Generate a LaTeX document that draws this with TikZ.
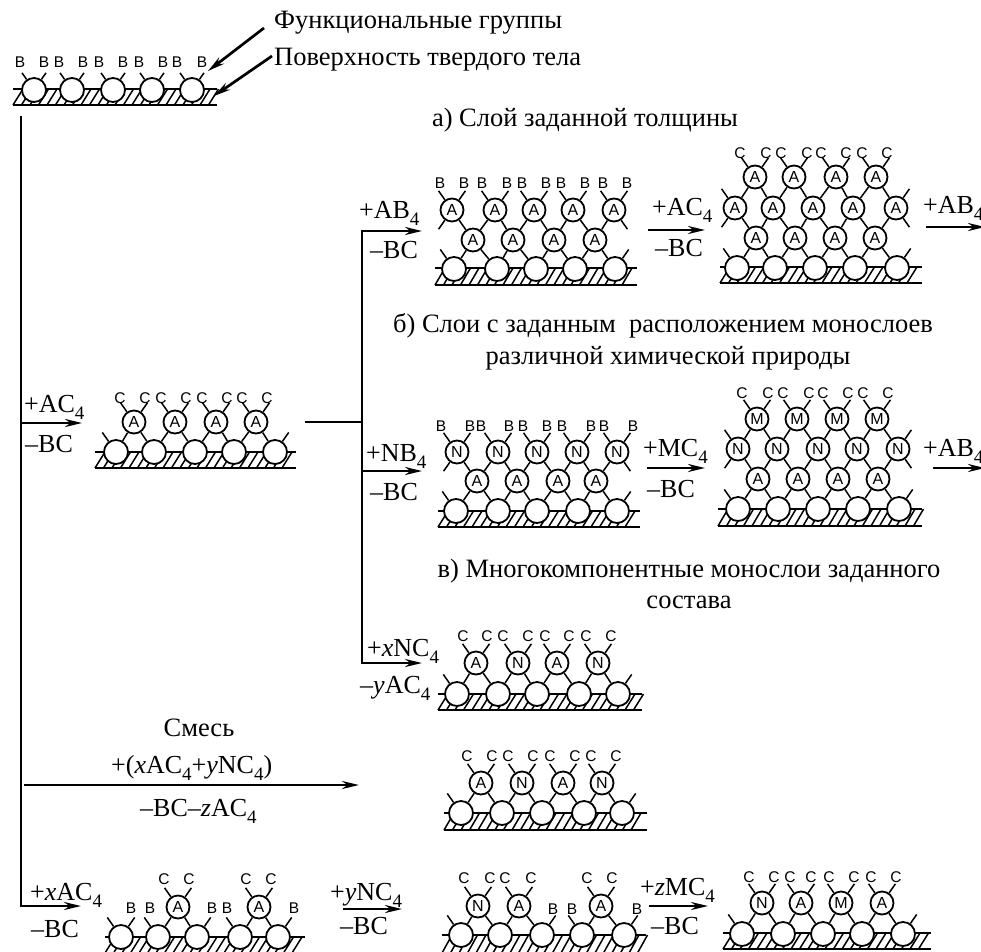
\documentclass[tikz,border=0pt]{standalone}
\usepackage{fontspec}
\setmainfont{Liberation Serif}
\newfontfamily\lsans{Liberation Sans}
\usetikzlibrary{arrows.meta,calc}
\newcommand{\lsub}[1]{\raisebox{-0.3em}{\fontsize{19}{19}\selectfont #1}}
\newcommand{\tlen}{11}
% ground strip with hatching: x0, x1, top, bottom
\newcommand{\surf}[4]{%
  \pgfmathtruncatemacro{\nh}{(#2-#1)/8.5-1}
  \foreach \k in {0,...,\nh}{\draw[hatchln] ({#1+8.5*\k},#4) -- ++(10,{#3-#4});}
  \draw[hatchln] (#1,#3) -- (#2,#3);
  \draw[baseln] (#1,#4) -- (#2,#4);}
\newcommand{\mkballs}[3]{%
  \foreach \x [count=\i] in {#2}{\node[ballc] (#1\i) at (\x,#3) {};}}
\newcommand{\mkatoms}[3]{%
  \foreach \x/\t [count=\i] in {#2}{\node[atomc] (#1\i) at (\x,#3) {\t};}}
% each atom of a row sits on two neighbours of the row below
\newcommand{\lnk}[2]{%
  \foreach \i [evaluate=\i as \j using int(\i+1)] in {1,2,3,4}{%
    \draw[bond] (#1\i) -- (#2\i);
    \draw[bond] (#1\i) -- (#2\j);}}
\newcommand{\tick}[2]{\draw[bond] (#1.#2) -- ++({\tlen*cos(#2)},{-\tlen*sin(#2)});}
\newcommand{\tops}[2]{\foreach \i in {1,...,#2}{\tick{#1\i}{125}\tick{#1\i}{55}}}
\newcommand{\mksubs}[4]{%
  \foreach \x [count=\i] in {#4}{\node[subc] (#1\i) at (\x,#3) {#2};}}

\begin{document}
\begin{tikzpicture}[x=1pt, y=-1pt,
  ballc/.style={circle, draw, fill=white, line width=1.8pt, inner sep=0pt, minimum size=24pt},
  atomc/.style={circle, draw, fill=white, line width=1.8pt, inner sep=0pt, minimum size=23pt, font=\lsans\fontsize{16}{16}\selectfont},
  subc/.style={inner sep=0pt, font=\lsans\fontsize{15.5}{16}\selectfont},
  bond/.style={line width=1.5pt},
  hatchln/.style={line width=1.5pt},
  baseln/.style={line width=2.4pt},
  mainln/.style={line width=2.9pt},
  arr/.style={line width=2.7pt, -{Stealth[length=17pt, width=8pt]}},
  lbl/.style={inner sep=0pt, anchor=base west, font=\fontsize{26}{26}\selectfont},
  ttl/.style={inner sep=0pt, anchor=base, font=\fontsize{26.5}{26.5}\selectfont}]
\useasboundingbox (0,0) rectangle (981,951);
\clip (0,0) rectangle (981,951);
\fill[white] (0,0) rectangle (981,951);

% titles
\node[lbl, font=\fontsize{26.5}{26.5}\selectfont] (tfunc) at (274,28) {Функциональные группы};
\node[lbl, font=\fontsize{26.5}{26.5}\selectfont] (tsurf) at (274,65) {Поверхность твердого тела};
\node[ttl] (ta) at (585,126) {а) Слой заданной толщины};
\node[ttl] (tb1) at (663,332) {б) Слои с заданным\ \ расположением монослоев};
\node[ttl] (tb2) at (668,364) {различной химической природы};
\node[ttl] (tc1) at (689,577) {в) Многокомпонентные монослои заданного};
\node[ttl] (tc2) at (689,608) {состава};
\node[ttl] (tmix) at (199,736) {Смесь};

% start surface
\surf{13}{217}{89}{105}
\mkballs{s}{34,72,113,152,192}{90}
\begin{scope}
\renewcommand{\tlen}{8}
\tops{s}{5}
\end{scope}
\mksubs{sb}{B}{62}{20,44,59,83,99,123,139,163,177,202}
\coordinate (pfunc) at (264,28);
\coordinate (psurf) at (272,56);
\draw[arr] (pfunc) -- (208,71);
\draw[arr] (psurf) -- (214,96);

% main lines
\draw[mainln] (21,116) -- (21,907.4);
\draw[mainln] (362,229.6) -- (362,664.4);
\coordinate (m1) at (21,423);
\coordinate (m2) at (21,906);
\coordinate (m3) at (24,785);
\coordinate (h1) at (362,231);
\coordinate (h2) at (362,471);
\coordinate (h3) at (362,663);
\coordinate (h0) at (362,422);
\draw[mainln] (305,422) -- (h0);
\draw[arr] (m1) -- (82,423);
\draw[arr] (m2) -- (81,906);
\draw[arr] (m3) -- (359,785);
\draw[arr] (h1) -- (422,231);
\draw[arr] (h2) -- (422,471);
\draw[arr] (h3) -- (422,663);
\draw[arr] (648,230) -- (705,230);
\draw[arr] (926,227) -- (985,227);
\draw[arr] (647,468) -- (705,468);
\draw[arr] (933,468) -- (985,468);
\draw[arr] (343,909) -- (402,909);
\draw[arr] (649,906) -- (708,906);

% reagents
\node[lbl] (r1) at (24,412) {+AC\lsub{4}};
\node[lbl] (r1b) at (25,452) {–BC};
\node[lbl] (r2) at (359,218) {+AB\lsub{4}};
\node[lbl] (r2b) at (370,258) {–BC};
\node[lbl] (r3) at (652,215) {+AC\lsub{4}};
\node[lbl] (r3b) at (655,256) {–BC};
\node[lbl] (r4) at (923,213) {+AB\lsub{4}};
\node[lbl] (r5) at (366,461) {+NB\lsub{4}};
\node[lbl] (r5b) at (370,500) {–BC};
\node[lbl] (r6) at (643,456) {+MC\lsub{4}};
\node[lbl] (r6b) at (647,497) {–BC};
\node[lbl] (r7) at (923,456) {+AB\lsub{4}};
\node[lbl] (r8) at (367,656) {+\textit{x}NC\lsub{4}};
\node[lbl] (r8b) at (360,693) {–\textit{y}AC\lsub{4}};
\node[lbl] (r9) at (111,773) {+(\textit{x}AC\lsub{4}+\textit{y}NC\lsub{4})};
\node[lbl] (r9b) at (140,816) {–BC–\textit{z}AC\lsub{4}};
\node[lbl] (r10) at (30,900) {+\textit{x}AC\lsub{4}};
\node[lbl] (r10b) at (31,937) {–BC};
\node[lbl] (r11) at (330,900) {+\textit{y}NC\lsub{4}};
\node[lbl] (r11b) at (340,934) {–BC};
\node[lbl] (r12) at (640,895) {+\textit{z}MC\lsub{4}};
\node[lbl] (r12b) at (651,934) {–BC};

% first layer
\surf{95}{296}{452}{468}
\mkballs{p}{116,154,195,234,275}{452}
\mkatoms{pa}{134/A,175/A,216/A,256/A}{422}
\lnk{pa}{p}
\tops{pa}{4}
\tick{p1}{125}\tick{p5}{55}
\mksubs{pc}{C}{398}{120,145,161,186,202,227,242,267}

% a) left
\surf{435}{637}{268}{285}
\mkballs{q}{454,497,536,575,615}{269}
\mkatoms{qa}{473/A,513/A,554/A,595/A}{240}
\mkatoms{qu}{452/A,495/A,534/A,573/A,614/A}{210}
\lnk{qa}{q}
\lnk{qa}{qu}
\tops{qu}{5}
\tick{qu1}{235}\tick{qu5}{-55}\tick{q1}{125}\tick{q5}{55}
\mksubs{qb}{B}{183}{440,464,482,507,522,546,561,585,603,627}

% a) right
\surf{720}{922}{267}{283}
\mkballs{r}{737,775,815,855,897}{268}
\mkatoms{ra}{756/A,795/A,835/A,875/A}{238}
\mkatoms{rm}{735/A,773/A,813/A,853/A,896/A}{208}
\mkatoms{ru}{755/A,794/A,836/A,876/A}{177}
\lnk{ra}{r}
\lnk{ra}{rm}
\lnk{ru}{rm}
\tops{ru}{4}
\tick{rm1}{125}\tick{rm1}{235}\tick{rm5}{55}\tick{rm5}{-55}\tick{r1}{125}\tick{r5}{55}
\mksubs{rc}{C}{153}{740,766,781,807,821,846,862,887}

% b) left
\surf{438}{640}{511}{527}
\mkballs{t}{456,498,537,578,617}{511}
\mkatoms{ta}{477/A,517/A,558/A,596/A}{481}
\mkatoms{tn}{457/N,498/N,537/N,577/N,617/N}{452}
\lnk{ta}{t}
\lnk{ta}{tn}
\tops{tn}{5}
\tick{tn1}{235}\tick{tn5}{-55}\tick{t1}{125}\tick{t5}{55}
\mksubs{tb}{B}{426}{441,470,481,509,523,547,562,591,604,633}

% b) right
\surf{718}{922}{509}{526}
\mkballs{u}{738,778,818,858,899}{509}
\mkatoms{ua}{758/A,798/A,838/A,878/A}{479}
\mkatoms{un}{738/N,777/N,818/N,857/N,898/N}{449}
\mkatoms{um}{757/M,797/M,837/M,877/M}{419}
\lnk{ua}{u}
\lnk{ua}{un}
\lnk{um}{un}
\tops{um}{4}
\tick{un1}{125}\tick{un1}{235}\tick{un5}{55}\tick{un5}{-55}\tick{u1}{125}\tick{u5}{55}
\mksubs{uc}{C}{393}{742,768,783,809,823,848,863,888}

% c)
\surf{438}{642}{694}{710}
\mkballs{v}{457,498,537,579,618}{694}
\mkatoms{va}{476/A,518/N,557/A,598/N}{663}
\lnk{va}{v}
\tops{va}{4}
\tick{v1}{125}\tick{v5}{55}
\mksubs{vc}{C}{636}{463,487,503,528,545,569,586,611}

% mixture
\surf{444}{647}{813}{830}
\mkballs{w}{461,502,542,584,622}{813}
\mkatoms{wa}{481/A,522/N,563/A,602/N}{783}
\lnk{wa}{w}
\tops{wa}{4}
\tick{w1}{125}\tick{w5}{55}
\mksubs{wc}{C}{756}{467,492,508,533,550,575,591,616}

% bottom row, 1
\surf{105}{305}{937}{953}
\mkballs{x}{121,158,197,240,278}{937}
\mkatoms{xa}{178/A,259/A}{907}
\foreach \a/\b in {xa1/x2,xa1/x3,xa2/x4,xa2/x5}{\draw[bond] (\a) -- (\b);}
\tops{xa}{2}
\tick{x1}{125}\tick{x1}{55}\tick{x2}{125}\tick{x3}{55}\tick{x4}{125}\tick{x5}{55}
\mksubs{xc}{C}{879}{164,189,246,271}
\mksubs{xb}{B}{908}{131,150,212,227,294}

% bottom row, 2
\surf{442}{646}{935}{953}
\mkballs{y}{461,500,542,582,624}{935}
\mkatoms{ya}{478/N,519/A,601/A}{906}
\foreach \a/\b in {ya1/y1,ya1/y2,ya2/y2,ya2/y3,ya3/y4,ya3/y5}{\draw[bond] (\a) -- (\b);}
\tops{ya}{3}
\tick{y1}{125}\tick{y3}{55}\tick{y4}{125}\tick{y5}{55}
\mksubs{yc}{C}{878}{464,490,505,531,587,612}
\mksubs{yb}{B}{909}{553,572,637}

% bottom row, 3
\surf{723}{931}{933}{949}
\mkballs{z}{742,783,823,862,903}{934}
\mkatoms{za}{762/N,801/A,841/M,882/A}{903}
\lnk{za}{z}
\tops{za}{4}
\tick{z1}{125}\tick{z5}{55}
\mksubs{zc}{C}{877}{749,774,790,811,829,854,871,896}
\end{tikzpicture}
\end{document}
